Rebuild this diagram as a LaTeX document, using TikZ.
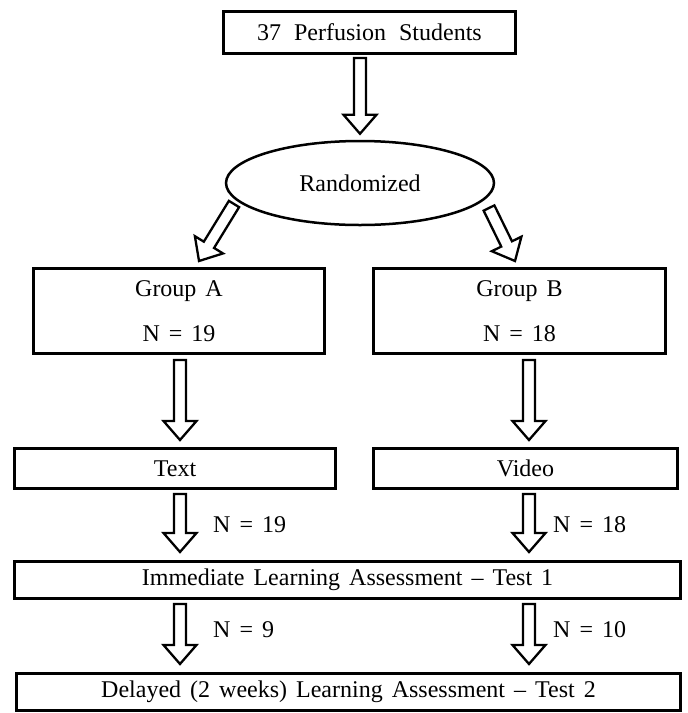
\documentclass[tikz,border=0pt]{standalone}
\usepackage{fontspec}
\setmainfont{Liberation Serif}[WordSpace=1.5]
\usetikzlibrary{calc,shapes.geometric}
\newcommand\blockarrow[2]{%
  \coordinate (bah) at ($(#2)!19pt!(#1)$);
  \draw[barrow] ($(#1)!6pt!90:(#2)$) -- ($(bah)!6pt!90:(#2)$) -- ($(bah)!16.5pt!90:(#2)$) -- (#2)
    -- ($(bah)!16.5pt!-90:(#2)$) -- ($(bah)!6pt!-90:(#2)$) -- ($(#1)!6pt!-90:(#2)$) -- cycle;}
\tikzset{
  box/.style={draw, line width=3pt, inner sep=0pt, align=center, font=\fontsize{24}{28}\selectfont},
  lbl/.style={inner sep=0pt, anchor=west, font=\fontsize{24}{28}\selectfont},
  barrow/.style={draw, line width=2.3pt, fill=white, line join=miter},
}
\begin{document}
\begin{tikzpicture}[x=1pt,y=-1pt]
\useasboundingbox (0,0) rectangle (688,713);
% nodes
\node[box, minimum width=292pt, minimum height=42pt] (top) at (369.5,32.5) {37\hspace{13pt}Perfusion\hspace{13pt}Students};
\node[box, draw, ellipse, line width=2.5pt, minimum width=268pt, minimum height=84pt] (rand) at (360,183) {Randomized};
\node[box, minimum width=291pt, minimum height=85pt] (ga) at (179,311) {Group A\\[17pt]N = 19};
\node[box, minimum width=292pt, minimum height=85pt] (gb) at (519.5,311) {Group B\\[17pt]N = 18};
\node[box, minimum width=321pt, minimum height=40pt] (txt) at (175,468.5) {Text};
\node[box, minimum width=304pt, minimum height=40pt] (vid) at (525.5,468.5) {Video};
\node[box, minimum width=666pt, minimum height=37pt] (imm) at (347.5,580) {Immediate Learning Assessment -- Test 1};
\node[box, minimum width=664pt, minimum height=37pt] (del) at (348.5,692) {Delayed (2 weeks) Learning Assessment -- Test 2};
% labels
\node[lbl] (n19) at (213,525) {N = 19};
\node[lbl] (n18) at (553,525) {N = 18};
\node[lbl] (n9) at (213,630) {N = 9};
\node[lbl] (n10) at (553,630) {N = 10};
% arrow end points
\coordinate (a1s) at ($(top.south)+(-9.5,3)$);
\coordinate (a1e) at ($(rand.north)+(0,-6)$);
\coordinate (a2s) at (234,204);
\coordinate (a2e) at (199,261);
\coordinate (a3s) at (489,208);
\coordinate (a3e) at (515,261);
\coordinate (a4s) at ($(ga.south)+(1,5)$);
\coordinate (a4e) at ($(txt.north -| a4s)+(0,-7)$);
\coordinate (a5s) at ($(gb.south)+(9.5,5)$);
\coordinate (a5e) at ($(vid.north -| a5s)+(0,-7)$);
\coordinate (a6s) at ($(txt.south -| a4s)+(0,4)$);
\coordinate (a6e) at ($(imm.north -| a4s)+(0,-8)$);
\coordinate (a7s) at ($(vid.south -| a5s)+(0,4)$);
\coordinate (a7e) at ($(imm.north -| a5s)+(0,-8)$);
\coordinate (a8s) at ($(imm.south -| a4s)+(0,4)$);
\coordinate (a8e) at ($(del.north -| a4s)+(0,-8)$);
\coordinate (a9s) at ($(imm.south -| a5s)+(0,4)$);
\coordinate (a9e) at ($(del.north -| a5s)+(0,-8)$);
% block arrows
\blockarrow{a1s}{a1e}
\blockarrow{a2s}{a2e}
\blockarrow{a3s}{a3e}
\blockarrow{a4s}{a4e}
\blockarrow{a5s}{a5e}
\blockarrow{a6s}{a6e}
\blockarrow{a7s}{a7e}
\blockarrow{a8s}{a8e}
\blockarrow{a9s}{a9e}
\end{tikzpicture}
\end{document}
